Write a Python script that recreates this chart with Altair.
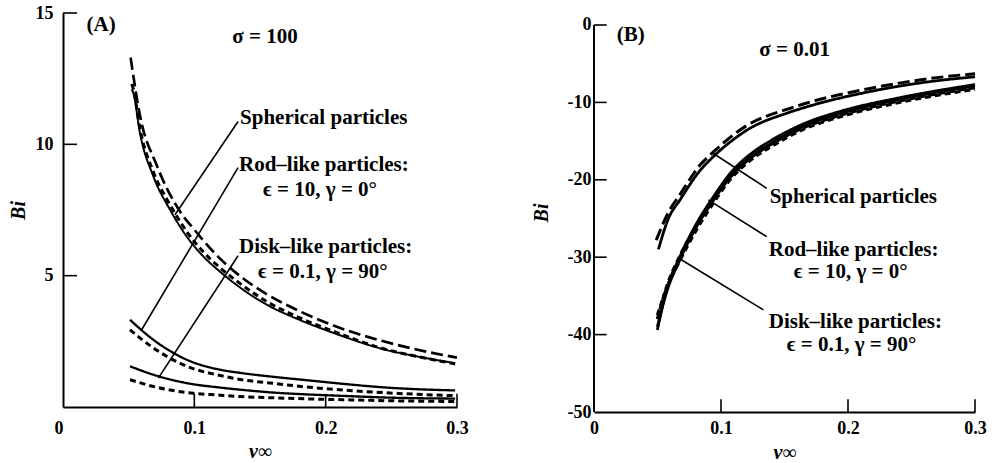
import altair as alt
import pandas as pd

# ---------------- Panel A : sigma = 100 ----------------
A_SPH_SOLID_X = [0.0523, 0.0536, 0.0586, 0.0688, 0.0815, 0.0942, 0.1069, 0.1196, 0.1348, 0.155, 0.18, 0.206, 0.244, 0.27, 0.2986]
A_SPH_SOLID_Y = [12.1, 11.95, 10.43, 8.78, 7.51, 6.49, 5.73, 5.15, 4.55, 3.9, 3.32, 2.82, 2.2, 1.92, 1.67]
A_SPH_SHORT_Y = [12.3, 12.1, 10.6, 8.95, 7.7, 6.68, 5.9, 5.3, 4.7, 4.02, 3.4, 2.88, 2.22, 1.92, 1.64]
A_SPH_LONG_X = [0.0515, 0.0586, 0.0714, 0.089, 0.1, 0.1196, 0.137, 0.155, 0.18, 0.206, 0.244, 0.27, 0.30]
A_SPH_LONG_Y = [13.3, 11.1, 9.2, 7.45, 6.75, 5.65, 4.9, 4.3, 3.65, 3.1, 2.5, 2.18, 1.88]
A_LOW_X = [0.051, 0.0688, 0.0942, 0.1196, 0.1348, 0.16, 0.1856, 0.22, 0.2463, 0.2986]
A_ROD_SOLID_Y = [3.32, 2.56, 1.8, 1.42, 1.3, 1.15, 1.02, 0.85, 0.74, 0.63]
A_ROD_DASH_Y = [2.94, 2.25, 1.55, 1.2, 1.05, 0.9, 0.76, 0.62, 0.54, 0.43]
A_DISK_SOLID_Y = [1.55, 1.23, 0.91, 0.74, 0.66, 0.55, 0.48, 0.41, 0.36, 0.32]
A_DISK_DASH_Y = [1.04, 0.78, 0.55, 0.45, 0.4, 0.35, 0.31, 0.27, 0.24, 0.21]

# ---------------- Panel B : sigma = 0.01 ----------------
B_SPH_X = [0.0507, 0.0586, 0.0677, 0.0835, 0.094, 0.1122, 0.1202, 0.1517, 0.165, 0.2173, 0.27, 0.30]
B_SPH_SOLID_Y = [-29.0, -25.0, -22.6, -18.8, -17.0, -14.5, -13.6, -11.4, -10.7, -8.6, -7.2, -6.7]
B_SPH_DASH_X = [0.049, 0.0586, 0.0677, 0.0835, 0.094, 0.1122, 0.1202, 0.1517, 0.165, 0.2173, 0.27, 0.30]
B_SPH_DASH_Y = [-27.8, -24.2, -21.9, -18.1, -16.4, -13.9, -13.0, -10.9, -10.2, -8.2, -6.8, -6.3]
B_LOW_X = [0.0499, 0.0572, 0.0677, 0.0809, 0.094, 0.1071, 0.128, 0.1386, 0.1675, 0.191, 0.2436, 0.30]
B_ROD_SOLID_Y = [-39.4, -34.2, -29.9, -25.6, -22.2, -19.2, -16.1, -15.0, -12.6, -11.3, -9.3, -7.7]
B_ROD_DASH_Y = [-38.0, -33.8, -29.8, -25.9, -22.6, -19.7, -16.6, -15.5, -13.1, -11.8, -9.7, -8.1]
B_DISK_SOLID_Y = [-39.0, -34.5, -30.3, -26.0, -22.6, -19.6, -16.5, -15.4, -12.9, -11.6, -9.5, -7.9]
B_DISK_DASH_Y = [-37.5, -34.0, -30.4, -26.4, -23.0, -20.0, -16.9, -15.8, -13.3, -12.0, -9.9, -8.3]

# ---------------- annotations ----------------
LABELS = ["Spherical particles", "Rod\u2013like particles:", "\u03f5 = 10, \u03b3 = 0\u00b0",
          "Disk\u2013like particles:", "\u03f5 = 0.1, \u03b3 = 90\u00b0"]
A_LABEL_X = [0.1348, 0.134, 0.1523, 0.134, 0.1485]
A_LABEL_Y = [11.01, 9.22, 8.27, 6.1, 5.15]
B_LABEL_X = [0.1383, 0.1376, 0.1572, 0.1376, 0.1517]
B_LABEL_Y = [-22.2, -29.1, -31.9, -38.4, -41.3]

A_PTR_X = [0.1333, 0.1333, 0.1333]
A_PTR_Y = [10.87, 9.11, 5.76]
A_PTR_X2 = [0.0853, 0.0599, 0.0726]
A_PTR_Y2 = [7.32, 2.94, 1.10]
B_PTR_X = [0.094, 0.090, 0.0665]
B_PTR_Y = [-16.6, -22.6, -30.1]
B_PTR_X2 = [0.136, 0.136, 0.1334]
B_PTR_Y2 = [-21.1, -27.35, -36.8]

A_TITLE = ["(A)", "\u03c3 = 100"]
A_TITLE_X = [0.029, 0.1538]
A_TITLE_Y = [14.55, 14.09]
B_TITLE = ["(B)", "\u03c3 = 0.01"]
B_TITLE_X = [0.029, 0.158]
B_TITLE_Y = [-1.29, -3.23]

A_XTICKS = [0, 0.1, 0.2, 0.3]
A_YTICKS = [5, 10, 15]
B_XTICKS = [0, 0.1, 0.2, 0.3]
B_YTICKS = [0, -10, -20, -30, -40, -50]

FONT = "Liberation Serif"


def lines_frame(items):
    rows = []
    for name, style, xs, ys in items:
        for xv, yv in zip(xs, ys):
            rows.append({"series": name, "style": style, "x": xv, "y": yv})
    return pd.DataFrame(rows)


dfA = lines_frame([
    ("sph_solid", "solid", A_SPH_SOLID_X, A_SPH_SOLID_Y),
    ("sph_short", "short", A_SPH_SOLID_X, A_SPH_SHORT_Y),
    ("sph_long", "long", A_SPH_LONG_X, A_SPH_LONG_Y),
    ("rod_solid", "thick", A_LOW_X, A_ROD_SOLID_Y),
    ("rod_dash", "short", A_LOW_X, A_ROD_DASH_Y),
    ("disk_solid", "thick", A_LOW_X, A_DISK_SOLID_Y),
    ("disk_dash", "short", A_LOW_X, A_DISK_DASH_Y),
])
dfB = lines_frame([
    ("sph_solid", "thick", B_SPH_X, B_SPH_SOLID_Y),
    ("sph_dash", "long", B_SPH_DASH_X, B_SPH_DASH_Y),
    ("rod_solid", "thick", B_LOW_X, B_ROD_SOLID_Y),
    ("rod_dash", "short", B_LOW_X, B_ROD_DASH_Y),
    ("disk_solid", "thick", B_LOW_X, B_DISK_SOLID_Y),
    ("disk_dash", "short", B_LOW_X, B_DISK_DASH_Y),
])

STYLES = ["solid", "thick", "long", "short"]
dash_scale = alt.Scale(domain=STYLES, range=[[1, 0], [1, 0], [12, 5], [6, 4]])


def build_panel(df, xdom, ydom, w, h, xaxis, yaxis, width_range,
                lab_x, lab_y, ptr, titles, tx, ty, xt_len, yt_len, ytick_vals, xtick_vals, extra=None):
    X = alt.X("x:Q", scale=alt.Scale(domain=xdom, nice=False, zero=False), axis=xaxis)
    Y = alt.Y("y:Q", scale=alt.Scale(domain=ydom, nice=False, zero=False), axis=yaxis)
    lines = alt.Chart(df).mark_line(color="black", interpolate="monotone").encode(
        x=X, y=Y, detail="series:N", order="x:Q",
        strokeDash=alt.StrokeDash("style:N", scale=dash_scale, legend=None),
        strokeWidth=alt.StrokeWidth("style:N", scale=alt.Scale(domain=STYLES, range=width_range), legend=None),
    )
    lab_df = pd.DataFrame({"x": lab_x, "y": lab_y, "text": LABELS})
    labels = alt.Chart(lab_df).mark_text(
        align="left", baseline="middle", font=FONT, fontWeight="bold", fontSize=21, color="black"
    ).encode(x="x:Q", y="y:Q", text="text:N")
    ttl_df = pd.DataFrame({"x": tx, "y": ty, "text": titles})
    ttl = alt.Chart(ttl_df).mark_text(
        align="center", baseline="middle", font=FONT, fontWeight="bold", fontSize=21, color="black"
    ).encode(x="x:Q", y="y:Q", text="text:N")
    ptr_df = pd.DataFrame({"x": ptr[0], "y": ptr[1], "x2": ptr[2], "y2": ptr[3]})
    pointers = alt.Chart(ptr_df).mark_rule(color="black", strokeWidth=1.6).encode(
        x="x:Q", y="y:Q", x2="x2:Q", y2="y2:Q")
    yt_df = pd.DataFrame({"y": ytick_vals, "x": [xdom[0]] * len(ytick_vals),
                          "x2": [xdom[0] + yt_len] * len(ytick_vals)})
    yt = alt.Chart(yt_df).mark_rule(color="black", strokeWidth=1.6).encode(
        x="x:Q", x2="x2:Q", y="y:Q")
    xt_df = pd.DataFrame({"x": xtick_vals, "y": [ydom[0]] * len(xtick_vals),
                          "y2": [ydom[0] + xt_len] * len(xtick_vals)})
    xt = alt.Chart(xt_df).mark_rule(color="black", strokeWidth=1.6).encode(
        x="x:Q", y="y:Q", y2="y2:Q")
    layers = [lines, pointers, yt, xt, labels, ttl]
    if extra is not None:
        layers.append(extra)
    return alt.layer(*layers).properties(width=w, height=h)


def x_axis(values, label_pad, title_pad, align_zero):
    kw = dict(values=values, format=".1~f", ticks=False, grid=False,
              labelFont=FONT, labelFontWeight="bold", labelFontSize=18, labelColor="black",
              labelPadding=label_pad, labelFlush=False,
              domainColor="black", domainWidth=2,
              title="\u03bd\u221e", titleFont=FONT, titleFontStyle="italic", titleFontWeight="bold",
              titleFontSize=20, titleColor="black", titlePadding=title_pad)
    if align_zero:
        kw["labelAlign"] = {"condition": {"test": "datum.value == 0", "value": "right"}, "value": "center"}
    return alt.Axis(**kw)


def y_axis(values, label_pad, title_pad, domain):
    return alt.Axis(values=values, labelExpr="toString(datum.value)", ticks=False, grid=False,
                    labelFont=FONT, labelFontWeight="bold", labelFontSize=18, labelColor="black",
                    labelPadding=label_pad, domain=domain, domainColor="black", domainWidth=2,
                    title="Bi", titleFont=FONT, titleFontStyle="italic", titleFontWeight="bold",
                    titleFontSize=20, titleColor="black", titlePadding=title_pad)


panelA = build_panel(
    dfA, [0, 0.3], [0, 15], 394, 394,
    x_axis(A_XTICKS, 12, 4, True), y_axis(A_YTICKS, 10, 7, True), [2, 3, 1.8, 1.8],
    A_LABEL_X, A_LABEL_Y, (A_PTR_X, A_PTR_Y, A_PTR_X2, A_PTR_Y2),
    A_TITLE, A_TITLE_X, A_TITLE_Y, 0.5, 0.0107, [15, 10, 5], [0.1, 0.2, 0.3],
)

# panel B: y axis line drawn from -50 to 0 only
b_axis_df = pd.DataFrame({"x": [0.0], "y": [-50.0], "y2": [0.0]})
b_axis_line = alt.Chart(b_axis_df).mark_rule(color="black", strokeWidth=2).encode(
    x="x:Q", y="y:Q", y2="y2:Q")

panelB = build_panel(
    dfB, [0, 0.3], [-50, 1.55], 381, 399,
    x_axis(B_XTICKS, 7, 5, False), y_axis(B_YTICKS, 3, 16, False), [2.6, 3.2, 2.4, 2.4],
    B_LABEL_X, B_LABEL_Y, (B_PTR_X, B_PTR_Y, B_PTR_X2, B_PTR_Y2),
    B_TITLE, B_TITLE_X, B_TITLE_Y, 1.64, 0.01, [0, -10, -20, -30, -40], [0.1, 0.2, 0.3],
    extra=b_axis_line,
)

chart = alt.hconcat(panelA, panelB, spacing=62).resolve_scale(
    x="independent", y="independent", strokeDash="independent", strokeWidth="independent"
).properties(
    padding={"left": 8, "top": 4, "right": 5, "bottom": 5},
    background="white",
).configure_view(stroke=None)

chart.save("out.html", embed_options={"renderer": "svg", "actions": False})
